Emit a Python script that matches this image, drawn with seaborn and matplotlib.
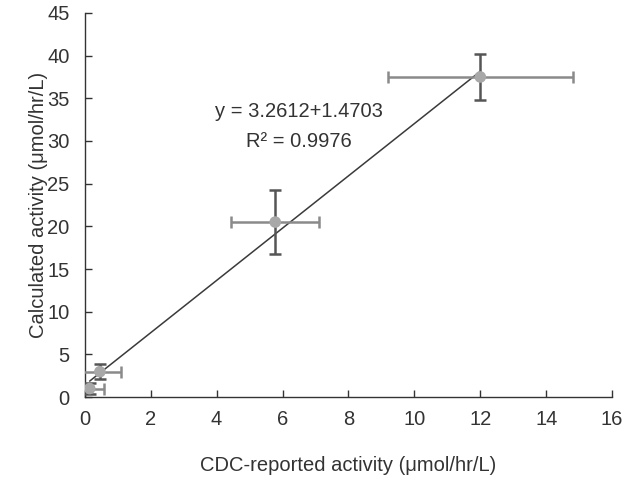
import matplotlib
matplotlib.use("Agg")
import matplotlib.pyplot as plt
import numpy as np
import pandas as pd
import seaborn as sns

# values
cdc_reported = [0.15, 0.46, 5.78, 12.0]
calculated = [1.0, 2.97, 20.5, 37.5]
cdc_err = [0.45, 0.65, 1.34, 2.8]
calc_err = [0.6, 0.9, 3.7, 2.7]
x_ticks = [0, 2, 4, 6, 8, 10, 12, 14, 16]
y_ticks = [0, 5, 10, 15, 20, 25, 30, 35, 40, 45]
eq_text = "y = 3.2612+1.4703"
r2_text = "R² = 0.9976"

df = pd.DataFrame({"cdc": cdc_reported, "calc": calculated})

sns.set_style("ticks")
plt.rcParams["font.family"] = ["Liberation Sans Narrow", "Liberation Sans", "DejaVu Sans"]

fig = plt.figure(figsize=(6.37, 4.79), dpi=100)
ax = fig.add_axes([0.133, 0.171, 0.828, 0.802])

# fitted line
sns.regplot(data=df, x="cdc", y="calc", ax=ax, scatter=False, ci=None,
            color="#3a3a3a", line_kws={"linewidth": 1.1})

# error bars: horizontal lighter, vertical darker
ax.errorbar(cdc_reported, calculated, xerr=cdc_err, fmt="none",
            ecolor="#8a8a8a", elinewidth=1.8, capsize=4.5, capthick=1.8, zorder=3)
ax.errorbar(cdc_reported, calculated, yerr=calc_err, fmt="none",
            ecolor="#555555", elinewidth=1.8, capsize=4.5, capthick=1.8, zorder=3)

sns.scatterplot(data=df, x="cdc", y="calc", ax=ax, color="#a8a8a8",
                s=70, edgecolor="none", zorder=4)

ax.text(6.5, 33.4, eq_text, ha="center", va="center", fontsize=14.5, color="#333333")
ax.text(6.5, 29.9, r2_text, ha="center", va="center", fontsize=14.5, color="#333333")

ax.set_xlim(0, 16)
ax.set_ylim(0, 45)
ax.set_xticks(x_ticks)
ax.set_yticks(y_ticks)
ax.tick_params(direction="in", length=5, width=1, colors="#333333",
               labelsize=14.5)
ax.tick_params(axis="y", pad=11)
ax.tick_params(axis="x", pad=9)
ax.set_xlabel("CDC-reported activity (μmol/hr/L)", fontsize=14.5, color="#333333", labelpad=20)
ax.set_ylabel("Calculated activity (μmol/hr/L)", fontsize=14.5, color="#333333", labelpad=-1)
for side in ["top", "right"]:
    ax.spines[side].set_visible(False)
for side in ["left", "bottom"]:
    ax.spines[side].set_color("#333333")
    ax.spines[side].set_linewidth(1)

fig.savefig("out.png", dpi=100)
